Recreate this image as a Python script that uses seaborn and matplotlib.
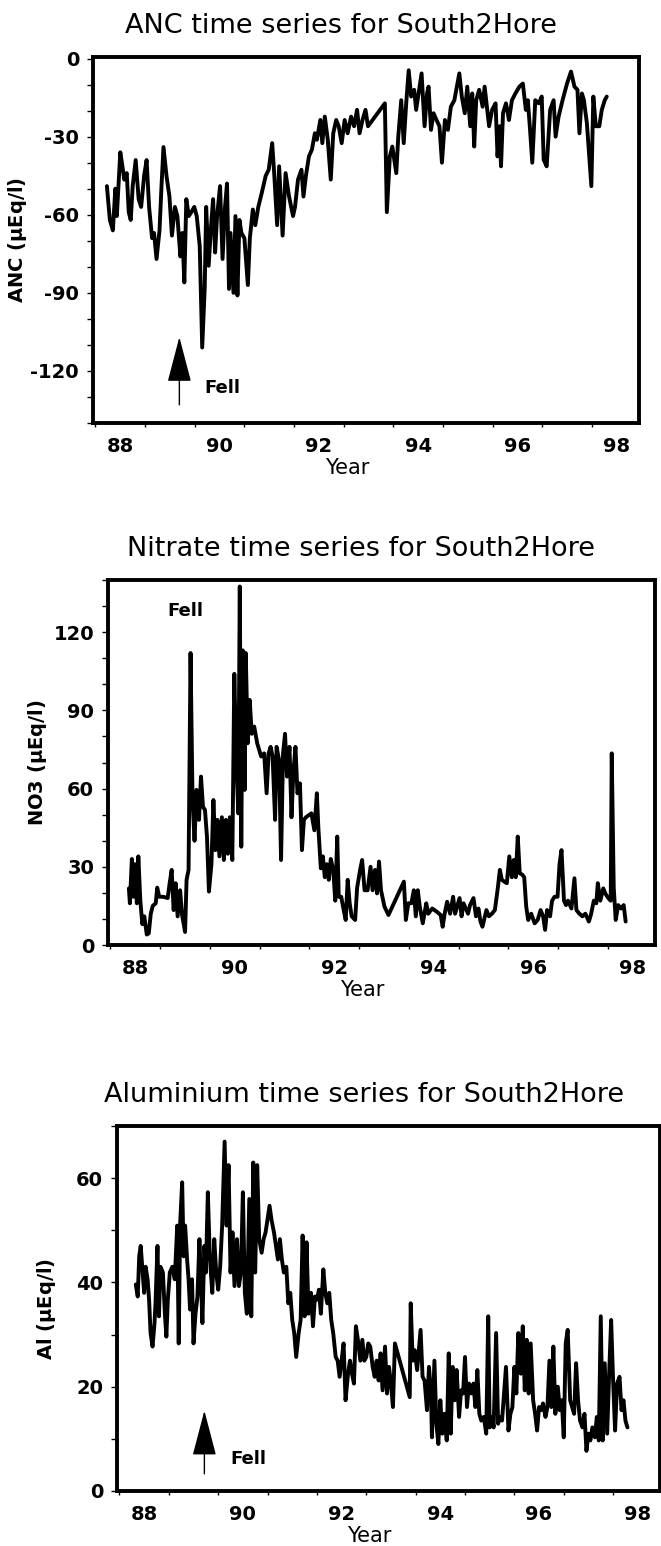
import matplotlib
matplotlib.use("Agg")
import matplotlib.pyplot as plt
import seaborn as sns
import numpy as np
import pandas as pd

# ANC (uEq/l)
anc_year = [87.73, 87.79, 87.85, 87.90, 87.93, 88.00, 88.04, 88.08, 88.13, 88.17, 88.21, 88.25,
            88.31, 88.37, 88.42, 88.48, 88.53, 88.58, 88.64, 88.68, 88.73, 88.79, 88.83, 88.87,
            88.93, 88.99, 89.04, 89.10, 89.15, 89.21, 89.25, 89.29, 89.33, 89.38, 89.43, 89.49,
            89.54, 89.60, 89.65, 89.70, 89.73, 89.78, 89.83, 89.87, 89.91, 89.95, 90.01, 90.06,
            90.11, 90.15, 90.19, 90.22, 90.28, 90.32, 90.36, 90.40, 90.44, 90.50, 90.57, 90.61,
            90.67, 90.72, 90.78, 90.85, 90.93, 90.99, 91.06, 91.10, 91.16, 91.20, 91.27, 91.33,
            91.40, 91.48, 91.52, 91.58, 91.65, 91.69, 91.74, 91.80, 91.86, 91.92, 91.96, 92.03,
            92.07, 92.12, 92.18, 92.24, 92.29, 92.35, 92.40, 92.46, 92.52, 92.58, 92.65, 92.71,
            92.77, 92.82, 92.88, 92.94, 92.99, 93.33, 93.37, 93.43, 93.48, 93.56, 93.60, 93.66,
            93.71, 93.76, 93.81, 93.86, 93.92, 93.96, 94.07, 94.13, 94.18, 94.21, 94.26, 94.31,
            94.37, 94.43, 94.48, 94.54, 94.60, 94.66, 94.73, 94.83, 94.88, 94.94, 94.99, 95.05,
            95.09, 95.13, 95.17, 95.23, 95.30, 95.34, 95.43, 95.49, 95.56, 95.60, 95.64, 95.67,
            95.71, 95.77, 95.83, 95.89, 95.96, 96.04, 96.11, 96.17, 96.21, 96.25, 96.30, 96.36,
            96.43, 96.49, 96.53, 96.59, 96.66, 96.73, 96.77, 96.83, 96.91, 97.00, 97.08, 97.15,
            97.21, 97.25, 97.30, 97.34, 97.40, 97.49, 97.53, 97.58, 97.65, 97.70, 97.76, 97.80]
anc_val = [-49, -62, -66, -50, -60.5, -36, -41, -46.5, -44, -59, -62, -49,
           -39, -54, -57, -45, -39, -57, -69, -67, -77, -66, -49, -34,
           -45, -53, -68, -57, -60.5, -76, -67, -86, -54, -60.5, -59, -57,
           -60.5, -72, -111, -88.5, -57, -79.6, -64, -54, -74.5, -60.5, -49, -77,
           -57, -48, -88.5, -67, -90, -60.5, -91, -62, -67, -69, -87, -69,
           -58, -64, -57, -51.6, -45, -42.7, -32.5, -44, -64, -41.4, -68, -44,
           -53, -60.5, -57, -46.5, -42.7, -53, -45, -37.6, -35, -28.7, -31.2, -23.6,
           -32.5, -22.3, -31.2, -46.5, -28.7, -23.6, -26, -32.5, -23.6, -28.7, -22.3, -26,
           -19.7, -28.7, -23.6, -19.7, -26, -17.2, -59, -37.6, -33.8, -44, -30, -16,
           -32.5, -17.2, -4.5, -14.6, -12, -19.7, -5.7, -26, -13.4, -10.8, -27.4, -21,
           -23.6, -26, -40, -23.6, -27.4, -18.5, -16, -5.7, -14.6, -21, -10.8, -26,
           -13.4, -33.8, -16, -12, -18.5, -10.8, -26, -19.7, -17.2, -37.6, -26, -41.4,
           -21, -17.2, -23.6, -16, -13.4, -10.8, -9.6, -19.7, -16, -26, -40, -16,
           -17.2, -14.6, -38.9, -41.4, -19.7, -16, -30, -22.3, -16, -9.6, -5, -10.8,
           -12, -28.7, -13.4, -16, -24.8, -49, -14.6, -26, -26, -19.7, -16, -14.6]

# NO3 (uEq/l), middle panel
no3_year = [87.87, 87.89, 87.93, 87.96, 87.99, 88.03, 88.06, 88.10, 88.14, 88.18, 88.23, 88.27,
            88.31, 88.35, 88.41, 88.44, 88.48, 88.56, 88.65, 88.69, 88.73, 88.77, 88.81, 88.85,
            88.90, 88.94, 89.00, 89.03, 89.07, 89.11, 89.15, 89.19, 89.23, 89.28, 89.32, 89.36,
            89.40, 89.44, 89.48, 89.53, 89.57, 89.61, 89.65, 89.69, 89.74, 89.78, 89.82, 89.86,
            89.90, 89.95, 89.99, 90.03, 90.07, 90.10, 90.13, 90.16, 90.20, 90.22, 90.26, 90.30,
            90.34, 90.39, 90.45, 90.53, 90.59, 90.64, 90.68, 90.72, 90.76, 90.81, 90.84, 90.89,
            90.93, 90.97, 91.01, 91.05, 91.10, 91.14, 91.18, 91.22, 91.26, 91.31, 91.35, 91.39,
            91.43, 91.54, 91.60, 91.65, 91.68, 91.73, 91.77, 91.81, 91.85, 91.89, 91.93, 91.98,
            92.02, 92.06, 92.09, 92.14, 92.19, 92.23, 92.27, 92.31, 92.35, 92.42, 92.46, 92.52,
            92.56, 92.61, 92.67, 92.73, 92.77, 92.82, 92.86, 92.90, 92.94, 93.01, 93.09, 93.40,
            93.44, 93.49, 93.55, 93.60, 93.64, 93.68, 93.72, 93.78, 93.85, 93.89, 93.97, 94.06,
            94.14, 94.18, 94.22, 94.27, 94.33, 94.39, 94.43, 94.52, 94.56, 94.60, 94.69, 94.73,
            94.80, 94.85, 94.90, 94.94, 94.98, 95.02, 95.06, 95.11, 95.17, 95.23, 95.29, 95.33,
            95.37, 95.42, 95.47, 95.52, 95.57, 95.61, 95.65, 95.69, 95.73, 95.78, 95.82, 95.86,
            95.90, 95.96, 96.03, 96.09, 96.15, 96.20, 96.24, 96.28, 96.34, 96.38, 96.43, 96.49,
            96.53, 96.57, 96.62, 96.66, 96.70, 96.77, 96.83, 96.87, 96.93, 96.99, 97.05, 97.12,
            97.16, 97.22, 97.27, 97.30, 97.35, 97.41, 97.45, 97.51, 97.56, 97.58, 97.62, 97.66,
            97.71, 97.77, 97.82, 97.86]
no3_val = [21.7, 16, 33, 18.5, 31, 16, 34, 17, 8, 11, 4, 4.5,
           12, 15, 16, 22, 18.5, 18.5, 18, 23.7, 28.8, 13.4, 23.7, 11,
           21, 11.5, 5, 25, 28.8, 112, 55.6, 40, 59.5, 48, 64.6, 53,
           51.8, 41.6, 20.5, 31, 55.6, 36.4, 48, 34, 49, 32.6, 48, 35,
           49, 32.6, 104, 71, 50.5, 137.5, 37.7, 113, 59.5, 112, 77.4, 94,
           81, 83.8, 77.4, 72.3, 73.5, 58.2, 73.5, 76, 72.3, 48, 76, 71,
           32.6, 73.5, 81, 64.6, 76, 49, 67, 76, 58.2, 62, 36.4, 48,
           49, 50.5, 44, 58.2, 45, 29.4, 34, 26, 31, 25, 33, 28.8,
           17, 41.6, 18.5, 18.5, 13.4, 9.6, 25, 16, 11, 9.6, 22, 28.8,
           32.6, 21, 21, 30, 21, 28.8, 19.8, 32, 21, 14.7, 11.5, 24.3,
           9.6, 16, 16, 21, 11, 21, 14.7, 8.3, 16, 12, 14, 12.8,
           11.5, 7, 12, 16.6, 12, 18.5, 12, 18, 11, 16, 12, 15.3,
           18, 11, 14, 9, 7, 10.2, 13.4, 11, 12, 13.4, 22, 28.8,
           25, 24.3, 23.7, 34, 26, 32.6, 26, 41.6, 27.5, 27, 26, 14.7,
           9.6, 12, 8.3, 9.6, 13.4, 11, 5.8, 13.4, 11, 17, 18.5, 18.5,
           31, 36.4, 17, 15.3, 17, 14, 25.6, 13.4, 12, 11, 12, 9,
           11.5, 17, 16, 23.7, 17, 21.7, 19.8, 18, 17, 73.5, 22, 9.6,
           15.3, 14, 15.3, 9]

# Al (uEq/l), bottom panel
al_year = [87.83, 87.87, 87.90, 87.93, 87.97, 88.00, 88.03, 88.07, 88.10, 88.13, 88.17, 88.21,
           88.23, 88.27, 88.30, 88.33, 88.38, 88.42, 88.45, 88.48, 88.52, 88.57, 88.62, 88.67,
           88.70, 88.73, 88.77, 88.80, 88.83, 88.87, 88.90, 88.93, 88.97, 89.00, 89.04, 89.08,
           89.12, 89.15, 89.18, 89.22, 89.25, 89.29, 89.33, 89.38, 89.42, 89.46, 89.50, 89.54,
           89.58, 89.63, 89.67, 89.71, 89.75, 89.79, 89.83, 89.88, 89.92, 89.96, 90.00, 90.04,
           90.08, 90.13, 90.17, 90.21, 90.25, 90.29, 90.33, 90.38, 90.42, 90.46, 90.54, 90.58,
           90.63, 90.67, 90.71, 90.75, 90.79, 90.83, 90.88, 90.92, 90.96, 91.00, 91.04, 91.08,
           91.13, 91.17, 91.21, 91.25, 91.29, 91.33, 91.38, 91.42, 91.46, 91.50, 91.54, 91.58,
           91.63, 91.67, 91.71, 91.75, 91.79, 91.83, 91.88, 91.92, 91.96, 92.00, 92.04, 92.08,
           92.13, 92.17, 92.21, 92.25, 92.29, 92.33, 92.38, 92.42, 92.46, 92.50, 92.54, 92.58,
           92.63, 92.67, 92.71, 92.75, 92.79, 92.83, 92.88, 92.92, 92.96, 93.00, 93.04, 93.08,
           93.38, 93.40, 93.44, 93.48, 93.53, 93.57, 93.60, 93.64, 93.68, 93.73, 93.77, 93.81,
           93.83, 93.88, 93.92, 93.96, 94.00, 94.04, 94.08, 94.13, 94.17, 94.21, 94.25, 94.29,
           94.33, 94.38, 94.42, 94.46, 94.50, 94.54, 94.58, 94.63, 94.67, 94.71, 94.75, 94.79,
           94.83, 94.88, 94.93, 94.97, 95.00, 95.04, 95.08, 95.13, 95.17, 95.21, 95.25, 95.29,
           95.33, 95.38, 95.42, 95.46, 95.50, 95.54, 95.58, 95.63, 95.67, 95.71, 95.75, 95.79,
           95.83, 95.88, 95.92, 95.96, 96.00, 96.04, 96.08, 96.13, 96.17, 96.21, 96.25, 96.29,
           96.33, 96.38, 96.42, 96.46, 96.50, 96.54, 96.58, 96.63, 96.67, 96.71, 96.75, 96.79,
           96.83, 96.88, 96.92, 96.96, 97.00, 97.04, 97.08, 97.13, 97.17, 97.21, 97.25, 97.29,
           97.33, 97.38, 97.42, 97.46, 97.50, 97.54, 97.58, 97.63, 97.67, 97.71, 97.75, 97.79]
al_val = [39.6, 37.3, 45, 47, 41.9, 38, 43, 40.6, 36.7, 30.3, 27.7, 32.2,
          36, 47, 33.5, 43, 41.9, 34, 29.6, 36.7, 41.9, 43, 40.6, 50.9,
          28.3, 51.5, 59.2, 45, 50.9, 44.4, 40.6, 34.8, 40.6, 28.3, 34, 37.3,
          48.3, 40.6, 32.2, 47, 41.9, 57.3, 45, 38, 48.3, 41.9, 38.6, 43,
          50.9, 67, 50.9, 62.5, 41.9, 49.6, 39.3, 48.3, 39.3, 41.9, 57.3, 38,
          34, 56, 33.5, 63, 41.9, 62.5, 48.3, 45.7, 48.3, 49.6, 54.7, 52,
          49.6, 47, 44.4, 48.3, 44.4, 41.9, 43, 36, 38, 32.8, 30.3, 25.7,
          30.3, 32.8, 49, 33.5, 47.7, 34, 38, 31.6, 37.3, 36.7, 38.6, 34,
          42.5, 38, 36, 38, 32.8, 30.3, 25.7, 25, 21.9, 25, 28.3, 17.4,
          22.5, 25, 22.5, 20.6, 31.6, 29, 25, 29, 25, 25.7, 28.3, 27.7,
          23.8, 21.9, 25, 21.2, 26.4, 19.3, 27.7, 18.7, 23.8, 20.6, 16.1, 28.3,
          18, 36, 25, 27, 23.2, 27.7, 30.9, 21.9, 21.2, 15.5, 23.8, 18.7,
          10.3, 25, 12.9, 9, 17.4, 11, 14.8, 9.7, 26.4, 11, 23.8, 17.4,
          23.2, 14.2, 19.3, 18.7, 25.7, 16.1, 20.6, 18.7, 20.6, 16.1, 23.2, 14.8,
          13.5, 14.2, 11, 33.5, 12.2, 14.2, 12.2, 30.3, 12.9, 14.2, 13.5, 18.7,
          23.8, 11.6, 14.8, 16.1, 23.8, 18.7, 30.3, 22.5, 31.6, 19.3, 29, 18.7,
          28.3, 17.4, 14.8, 11.6, 16.1, 15.5, 16.8, 14.2, 16.1, 25, 16.1, 27.7,
          14.8, 20, 15.5, 17.4, 10.3, 28.3, 30.9, 17.4, 16.1, 14.8, 24.5, 17.4,
          13.5, 12.2, 14.8, 7.7, 11, 9.7, 12.2, 10.3, 14.2, 9.7, 33.5, 9.7,
          24.5, 11, 22.5, 32.8, 21.2, 11.6, 20.6, 21.9, 15.5, 17.4, 13.5, 12.2]

titles = ["ANC time series for South2Hore",
          "Nitrate time series for South2Hore",
          "Aluminium time series for South2Hore"]
ylabels = [r"ANC ($\mu$Eq/l)", r"NO3 ($\mu$Eq/l)", r"Al ($\mu$Eq/l)"]

sns.set_style("ticks")
plt.rcParams["font.family"] = ["DejaVu Sans"]
plt.rcParams["axes.unicode_minus"] = False
plt.rcParams["mathtext.default"] = "bf"
for key in ["text.color", "axes.labelcolor", "xtick.color", "ytick.color", "axes.edgecolor"]:
    plt.rcParams[key] = "black"

W, H = 661, 1546
fig = plt.figure(figsize=(W / 100, H / 100), dpi=100)

# axes boxes in pixels: left, right, top, bottom
boxes = [(93, 639, 57, 423), (108, 655, 580, 945), (117, 660, 1126, 1491)]
axs = []
for l, r, t, b in boxes:
    axs.append(fig.add_axes([l / W, 1 - b / H, (r - l) / W, (b - t) / H]))

series = [(anc_year, anc_val), (no3_year, no3_val), (al_year, al_val)]
ylims = [(-140, 0.6), (0, 140), (0, 70)]
ymajor = [np.arange(-120, 1, 30), np.arange(0, 121, 30), np.arange(0, 61, 20)]
yminor = [np.arange(-140, 1, 10), np.arange(0, 141, 10), np.arange(0, 71, 10)]
title_x = [0.455, 0.463, 0.455]
ylab_x = [-0.117, -0.108, -0.109]

for i, ax in enumerate(axs):
    df = pd.DataFrame({"year": series[i][0], "val": series[i][1]})
    sns.lineplot(data=df, x="year", y="val", ax=ax, color="black", lw=2.8,
                 sort=False, estimator=None)
    ax.set_xlim(87.45, 98.45)
    ax.set_ylim(*ylims[i])
    ax.set_xticks(np.arange(88, 99, 2))
    ax.set_xticklabels([str(v) for v in range(88, 99, 2)])
    ax.set_xticks(np.arange(87.5, 98.5, 1), minor=True)
    ax.set_yticks(ymajor[i])
    ax.set_yticks(yminor[i], minor=True)
    ax.tick_params(axis="x", which="major", length=0, pad=10, labelsize=14)
    ax.tick_params(axis="x", which="minor", length=3, width=1)
    ax.tick_params(axis="y", which="both", length=4, width=1, pad=6, labelsize=14)
    for lab in ax.get_xticklabels() + ax.get_yticklabels():
        lab.set_fontweight("bold")
    for sp in ax.spines.values():
        sp.set_visible(True)
        sp.set_linewidth(2.8)
    ax.set_xlabel("Year", fontsize=15, labelpad=0)
    ax.xaxis.set_label_coords(0.465, -0.095)
    ax.set_ylabel(ylabels[i], fontsize=14, fontweight="bold")
    ax.yaxis.set_label_coords(ylab_x[i], 0.5)
    ax.set_title(titles[i], fontsize=19.5, x=title_x[i], pad=17)

# fell markers
arrow = dict(arrowstyle="-|>,head_length=2.9,head_width=0.76", color="black",
             lw=1, shrinkA=0, shrinkB=0, mutation_scale=10)
axs[0].annotate("", xy=(89.19, -107), xytext=(89.19, -133), arrowprops=arrow)
axs[0].text(89.69, -126.5, "Fell", fontsize=13, fontweight="bold", va="center")
axs[1].text(88.65, 128, "Fell", fontsize=13, fontweight="bold", va="center")
axs[2].annotate("", xy=(89.22, 15.4), xytext=(89.22, 3.3), arrowprops=arrow)
axs[2].text(89.75, 6.2, "Fell", fontsize=13, fontweight="bold", va="center")

fig.savefig("out.png", dpi=100)
